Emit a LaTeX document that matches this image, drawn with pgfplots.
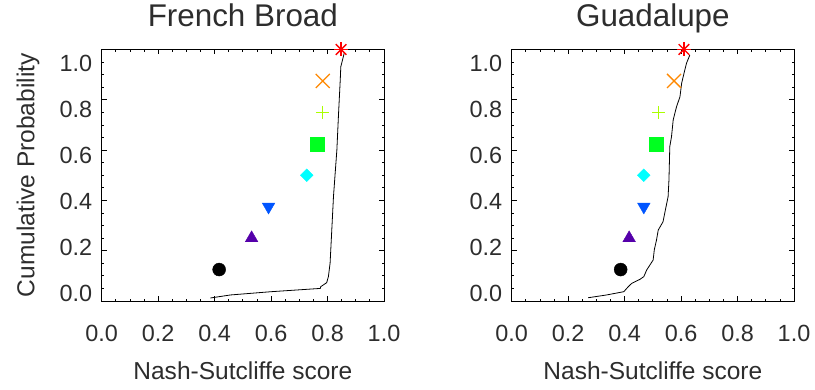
\documentclass[border=0pt]{standalone}
\usepackage{pgfplots}
\pgfplotsset{compat=1.18}
\usepackage{fontspec}
\setmainfont{Liberation Sans}
\definecolor{cpurple}{RGB}{85,0,170}
\definecolor{cblue}{RGB}{0,85,255}
\definecolor{ccyan}{RGB}{0,255,255}
\definecolor{cgreen}{RGB}{0,255,32}
\definecolor{clime}{RGB}{170,255,0}
\definecolor{corange}{RGB}{255,136,0}
\definecolor{cred}{RGB}{255,0,0}
\definecolor{txt}{RGB}{45,45,45}

\pgfplotsset{
  mainax/.style={scale only axis, width=282.3bp, height=251.5bp, anchor=south west,
    xmin=0, xmax=1, ymin=0, ymax=1,
    xtick={0,0.2,0.4,0.6,0.8,1}, ytick={0,0.2,0.4,0.6,0.8,1},
    minor tick num=3, xticklabels={}, yticklabels={},
    tick align=inside, major tick length=5bp, minor tick length=2.5bp,
    axis line style={line width=0.9bp, black},
    every tick/.style={black, line width=0.8bp},
    clip=false,
    font=\fontsize{24.6}{29}\selectfont,
    title style={font=\fontsize{31.5}{36}\selectfont, text=txt, at={(axis description cs:0.5,1.0684)}, anchor=base, inner sep=0pt},
    xlabel style={text=txt, at={(axis description cs:0.5,-0.314)}, anchor=base, inner sep=0pt},
    ylabel style={text=txt, at={(axis description cs:-0.261,0.5)}, anchor=center, inner sep=0pt},
  },
  labax/.style={scale only axis, width=282.3bp, height=251.5bp, anchor=south west,
    xmin=0, xmax=1, ymin=-0.0317, ymax=1.0618,
    xtick={0,0.2,0.4,0.6,0.8,1}, ytick={0,0.2,0.4,0.6,0.8,1},
    xticklabels={0.0,0.2,0.4,0.6,0.8,1.0}, yticklabels={0.0,0.2,0.4,0.6,0.8,1.0},
    axis line style={draw=none}, major tick length=0pt, tick style={draw=none},
    tick align=inside,
    font=\fontsize{23.5}{28}\selectfont,
    xticklabel style={text=txt, anchor=center, inner sep=0pt, yshift=-32.7bp},
    yticklabel style={text=txt, anchor=east, inner sep=0pt, xshift=-9.4bp},
  },
  curve/.style={black, line width=0.8bp, no marks},
}

\pgfplotstableread{
x y
0.385 0.012
0.456 0.024
0.600 0.037
0.774 0.050
0.776 0.057
0.797 0.073
0.803 0.097
0.809 0.150
0.815 0.282
0.821 0.415
0.827 0.508
0.833 0.600
0.839 0.746
0.845 0.879
0.847 0.932
0.853 0.958
0.859 0.985
}\cdfFB

\pgfplotstableread{
x y
0.271 0.013
0.336 0.024
0.397 0.037
0.413 0.057
0.425 0.070
0.454 0.086
0.468 0.097
0.478 0.123
0.501 0.163
0.505 0.203
0.513 0.243
0.519 0.282
0.536 0.315
0.542 0.349
0.554 0.415
0.557 0.481
0.560 0.614
0.566 0.653
0.572 0.720
0.584 0.773
0.596 0.812
0.602 0.866
0.613 0.918
0.619 0.945
0.631 0.978
}\cdfGU

\begin{document}
\begin{tikzpicture}[x=1bp,y=1bp]
\useasboundingbox (0,0) rectangle (815,389);

% ---------- French Broad ----------
\begin{axis}[mainax, at={(101.7bp,88bp)}, title={French Broad},
  xlabel={Nash-Sutcliffe score}, ylabel={Cumulative Probability}]
\addplot[curve] table[x=x,y=y] {\cdfFB};
\addplot[only marks, mark=*, mark size=6.5bp, black] coordinates {(0.416,0.125)};
\addplot[only marks, mark=triangle*, mark size=7.3bp, cpurple] coordinates {(0.531,0.25)};
\addplot[only marks, mark=triangle*, mark size=7.3bp, cblue, mark options={rotate=180}] coordinates {(0.591,0.375)};
\addplot[only marks, mark=square*, mark size=4.5bp, ccyan, mark options={rotate=45}] coordinates {(0.726,0.5)};
\addplot[only marks, mark=square*, mark size=7bp, cgreen] coordinates {(0.763,0.625)};
\addplot[only marks, mark=+, mark size=6.5bp, clime, mark options={line width=1.3bp}] coordinates {(0.782,0.75)};
\addplot[only marks, mark=x, mark size=9.9bp, corange, mark options={line width=1.3bp}] coordinates {(0.783,0.875)};
\addplot[only marks, mark=+, mark size=7bp, cred, mark options={line width=1.3bp}] coordinates {(0.848,1.0)};
\addplot[only marks, mark=x, mark size=7.5bp, cred, mark options={line width=1.3bp}] coordinates {(0.848,1.0)};
\end{axis}
\begin{axis}[labax, at={(101.7bp,88bp)}]
\addplot[draw=none] coordinates {(0,0)};
\end{axis}

% ---------- Guadalupe ----------
\begin{axis}[mainax, at={(511.7bp,88bp)}, title={Guadalupe},
  xlabel={Nash-Sutcliffe score}]
\addplot[curve] table[x=x,y=y] {\cdfGU};
\addplot[only marks, mark=*, mark size=6.5bp, black] coordinates {(0.386,0.125)};
\addplot[only marks, mark=triangle*, mark size=7.3bp, cpurple] coordinates {(0.416,0.25)};
\addplot[only marks, mark=triangle*, mark size=7.3bp, cblue, mark options={rotate=180}] coordinates {(0.468,0.375)};
\addplot[only marks, mark=square*, mark size=4.5bp, ccyan, mark options={rotate=45}] coordinates {(0.468,0.5)};
\addplot[only marks, mark=square*, mark size=7bp, cgreen] coordinates {(0.511,0.625)};
\addplot[only marks, mark=+, mark size=6.5bp, clime, mark options={line width=1.3bp}] coordinates {(0.520,0.75)};
\addplot[only marks, mark=x, mark size=9.9bp, corange, mark options={line width=1.3bp}] coordinates {(0.575,0.875)};
\addplot[only marks, mark=+, mark size=7bp, cred, mark options={line width=1.3bp}] coordinates {(0.610,1.0)};
\addplot[only marks, mark=x, mark size=7.5bp, cred, mark options={line width=1.3bp}] coordinates {(0.610,1.0)};
\end{axis}
\begin{axis}[labax, at={(511.7bp,88bp)}]
\addplot[draw=none] coordinates {(0,0)};
\end{axis}
\end{tikzpicture}
\end{document}
